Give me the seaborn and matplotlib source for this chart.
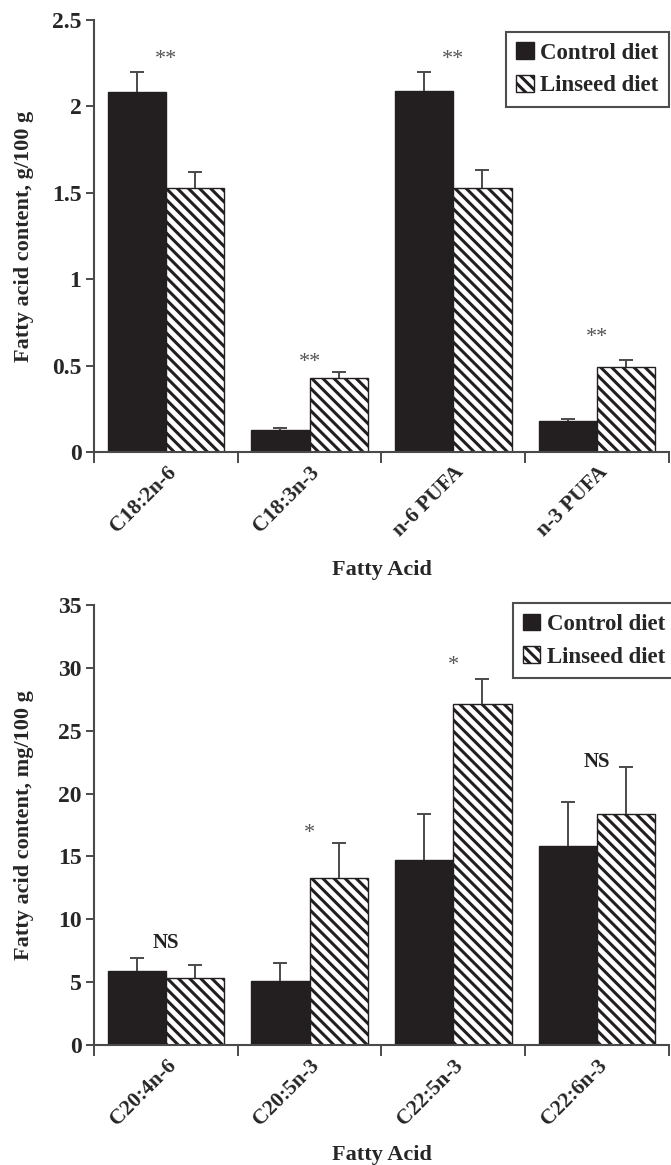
import pandas as pd
import matplotlib
matplotlib.use("Agg")
import matplotlib.pyplot as plt
import seaborn as sns
from matplotlib.ticker import FixedLocator, FuncFormatter

# === Data ===
diets = ["Control diet", "Linseed diet"]

top_acids = ["C18:2n-6", "C18:3n-3", "n-6 PUFA", "n-3 PUFA"]
top_control = [2.08, 0.13, 2.09, 0.18]
top_control_err = [0.12, 0.01, 0.11, 0.01]
top_linseed = [1.53, 0.43, 1.53, 0.49]
top_linseed_err = [0.09, 0.03, 0.10, 0.04]
top_marks = ["**", "**", "**", "**"]
top_mark_y = [2.27, 0.52, 2.27, 0.66]

bot_acids = ["C20:4n-6", "C20:5n-3", "C22:5n-3", "C22:6n-3"]
bot_control = [5.9, 5.1, 14.7, 15.8]
bot_control_err = [1.05, 1.4, 3.7, 3.5]
bot_linseed = [5.35, 13.3, 27.1, 18.4]
bot_linseed_err = [1.05, 2.8, 2.0, 3.7]
bot_marks = ["NS", "*", "*", "NS"]
bot_mark_y = [8.1, 16.8, 30.2, 22.5]

sns.set_style("ticks")
plt.rcParams["font.family"] = ["Liberation Serif", "DejaVu Serif"]
plt.rcParams["font.weight"] = "bold"
plt.rcParams["hatch.linewidth"] = 2.2
plt.rcParams["hatch.color"] = "#1e1e1e"

BAR = "#231f20"
LINE = "#4a4a4a"


def draw_panel(ax, acids, ctrl, ctrl_err, lin, lin_err, marks, mark_y,
               ymax, ystep, ylabel, bbox):
    df = pd.DataFrame({
        "acid": acids * 2,
        "value": ctrl + lin,
        "diet": [diets[0]] * len(acids) + [diets[1]] * len(acids),
    })
    sns.barplot(data=df, x="acid", y="value", hue="diet",
                palette=[BAR, "white"], edgecolor=BAR, linewidth=1.0,
                width=0.81, saturation=1, errorbar=None, ax=ax, legend=False)

    # hatch the linseed bars and add upper-only error bars
    for k, (cont, errs) in enumerate(zip(ax.containers, [ctrl_err, lin_err])):
        for bar, e in zip(cont.patches, errs):
            if k == 1:
                bar.set_hatch("\\\\\\")
            cx = bar.get_x() + bar.get_width() / 2
            top = bar.get_height()
            _, caps, _ = ax.errorbar(cx, top, yerr=[[0], [e]], fmt="none",
                                     ecolor=LINE, elinewidth=1.4,
                                     capsize=4.8, capthick=1.4, zorder=1)
            for c in caps:
                if abs(c.get_ydata()[0] - top) < 1e-9:
                    c.set_visible(False)

    for i, (m, y) in enumerate(zip(marks, mark_y)):
        if m == "NS":
            ax.text(i, y, m, ha="center", va="center", fontsize=15,
                    fontweight="bold", color="#222222")
        else:
            ax.text(i, y, m, ha="center", va="center", fontsize=16,
                    fontweight="normal", color="#555555")

    ax.set_xlim(-0.5, 3.5)
    ax.set_ylim(0, ymax)
    ax.yaxis.set_major_locator(FixedLocator(
        [k * ystep for k in range(int(round(ymax / ystep)) + 1)]))
    ax.yaxis.set_major_formatter(FuncFormatter(lambda v, p: "%g" % v))
    ax.set_xticks(range(len(acids)))
    ax.set_xticklabels(acids)
    ax.xaxis.set_minor_locator(FixedLocator([-0.5, 0.5, 1.5, 2.5, 3.5]))
    ax.tick_params(axis="x", which="major", length=0, pad=7.5, labelsize=15.5,
                   labelrotation=45)
    ax.tick_params(axis="x", which="minor", length=8, width=1.4, color=LINE)
    ax.tick_params(axis="y", length=6, width=1.4, color=LINE, pad=3,
                   labelsize=17)
    for lab in ax.get_xticklabels():
        lab.set_ha("right")
        lab.set_rotation_mode("anchor")
        lab.set_fontweight("bold")
    for lab in ax.get_yticklabels():
        lab.set_fontweight("bold")

    sns.despine(ax=ax)
    for s in ["left", "bottom"]:
        ax.spines[s].set_linewidth(1.5)
        ax.spines[s].set_color(LINE)

    ax.set_xlabel("Fatty Acid", fontsize=16, fontweight="bold")
    ax.set_ylabel(ylabel, fontsize=16, fontweight="bold")
    ax.yaxis.set_label_coords(-0.104, 0.5)

    leg = ax.legend([ax.containers[0].patches[0], ax.containers[1].patches[0]],
                    diets, loc="upper right", bbox_to_anchor=bbox,
                    borderaxespad=0, fancybox=False, frameon=True,
                    edgecolor="#222222", handlelength=0.75,
                    handleheight=0.75, handletextpad=0.3, labelspacing=0.5,
                    borderpad=0.45,
                    prop={"size": 16.5, "weight": "bold"})
    leg.get_frame().set_linewidth(1.5)


fig = plt.figure(figsize=(6.71, 11.65), dpi=100)
ax1 = fig.add_axes([0.140, 0.612, 0.857, 0.371])
ax2 = fig.add_axes([0.140, 0.103, 0.857, 0.3777])

draw_panel(ax1, top_acids, top_control, top_control_err, top_linseed,
           top_linseed_err, top_marks, top_mark_y, 2.5, 0.5,
           "Fatty acid content, g/100 g", (1.0, 0.972))
ax1.xaxis.set_label_coords(0.5, -0.25)

draw_panel(ax2, bot_acids, bot_control, bot_control_err, bot_linseed,
           bot_linseed_err, bot_marks, bot_mark_y, 35, 5,
           "Fatty acid content, mg/100 g", (1.012, 1.004))
ax2.xaxis.set_label_coords(0.5, -0.227)

fig.savefig("out.png", dpi=100)
